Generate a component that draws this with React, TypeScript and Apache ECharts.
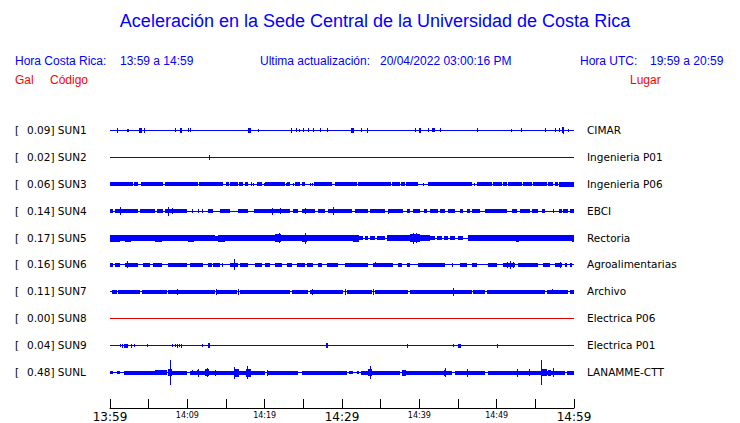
import { useEffect, useRef } from 'react';
import * as echarts from 'echarts';

// ---- data ----
const stationCodes = ['SUN1', 'SUN2', 'SUN3', 'SUN4', 'SUN5', 'SUN6', 'SUN7', 'SUN8', 'SUN9', 'SUNL'];
const stationPlaces = ['CIMAR', 'Ingenieria P01', 'Ingenieria P06', 'EBCI', 'Rectoria', 'Agroalimentarias', 'Archivo', 'Electrica P06', 'Electrica P01', 'LANAMME-CTT'];
const peakGal = [0.09, 0.02, 0.06, 0.14, 0.17, 0.16, 0.11, 0.0, 0.04, 0.48];
const timeLabels = ['13:59', '14:09', '14:19', '14:29', '14:39', '14:49', '14:59'];

// bands: [startMinute, endMinute, halfAmplitude]; spikes: [minute, halfAmplitude]
const sun1Bands = [[3.8, 4.1, 2], [4.4, 4.55, 2], [9.05, 9.35, 2], [17.9, 18.2, 2], [31.2, 31.5, 2], [39.9, 40.2, 2], [41.6, 42.0, 1.5], [58.4, 58.7, 2.5]];
const sun1Spikes = [[0.87, 2], [2.16, 1], [2.37, 1], [8.4, 1.5], [10.1, 1.5], [10.3, 1.5], [19.1, 1], [23.4, 2], [24.1, 1.5], [24.5, 1], [25.0, 1.5], [25.6, 1.5], [26.3, 1.5], [27.2, 1.5], [28.0, 1.5], [32.4, 1.5], [33.2, 2], [39.4, 1.5], [41.1, 1.5], [42.7, 1.5], [47.5, 1.5], [51.9, 1], [53.2, 1.5], [56.3, 1.5], [57.6, 1.5], [58.1, 1.5], [58.55, 3], [59.2, 1]];

const sun2Bands: number[][] = [];
const sun2Spikes = [[12.8, 2]];

const sun3Bands = [[0, 3.0, 1.5], [3.15, 3.66, 1.5], [3.97, 6.9, 1.5], [7.11, 11.42, 1.5], [11.55, 14.65, 1.5], [14.96, 15.39, 1.5], [15.52, 16.59, 1.5], [16.72, 17.24, 1.5], [17.46, 17.89, 1.5], [18.96, 19.61, 1.5], [20.04, 22.63, 1.5], [22.84, 23.27, 1.5], [23.92, 24.57, 1.5], [24.78, 25.21, 1.5], [26.42, 28.66, 1.5], [29.09, 31.89, 1.5], [32.02, 36.33, 1.5], [36.51, 37.5, 1.5], [37.63, 38.14, 1.5], [38.27, 39.87, 1.5], [41.08, 46.76, 1.5], [47.41, 49.35, 1.5], [49.57, 50.64, 1.5], [50.86, 51.29, 1.5], [51.5, 53.23, 1.5], [53.44, 54.52, 1.5], [54.74, 56.46, 1.5], [56.68, 57.33, 1.5], [57.54, 57.97, 1.5], [58.06, 60, 2]];
const sun3Spikes = [[18.2, 1.5], [18.5, 1], [19.9, 1], [22.7, 1], [23.6, 1], [25.8, 1], [26.1, 1], [40.5, 1], [47.1, 1]];

const sun4Bands = [[0, 0.43, 1.2], [0.65, 3.66, 1.2], [3.88, 5.82, 1.2], [6.03, 6.9, 1.2], [7.11, 9.91, 1.5], [12.71, 13.36, 1.2], [14.22, 15.52, 1.2], [16.5, 17.89, 1.2], [18.66, 20.9, 1.2], [21.12, 23.27, 1.5], [23.71, 24.35, 1.2], [24.78, 26.51, 1.5], [26.94, 27.8, 1.2], [28.14, 31.25, 1.2], [31.68, 33.4, 1.2], [33.62, 35.56, 1.2], [35.9, 37.93, 1.2], [38.36, 38.79, 1.2], [39.22, 40.08, 1.2], [40.64, 40.95, 1.2], [41.38, 42.45, 1.2], [42.67, 43.32, 1.2], [43.75, 44.61, 1.2], [45.26, 45.69, 1.2], [46.12, 46.55, 1.2], [46.76, 47.84, 1.2], [48.49, 51.29, 1.2], [51.94, 52.58, 1.2], [53.01, 54.29, 1.2], [54.61, 55.38, 1.2], [55.82, 56.25, 1.2], [58.19, 58.4, 1.2], [58.62, 59.26, 1.2], [59.48, 60, 1.2]];
const sun4Spikes = [[1.29, 3.5], [7.54, 4], [8.0, 2.5], [10.65, 1.5], [11.42, 1.5], [11.94, 1.5], [20.99, 3], [22.0, 2.5], [25.21, 2.5], [28.79, 3.5], [36.0, 2], [57.33, 1.5], [58.0, 1.5]];

const sun5Bands = [[0, 1.3, 3], [1.3, 1.94, 2.5], [1.94, 2.72, 3], [2.72, 5.82, 2.5], [5.82, 6.68, 3], [6.68, 10.13, 2.5], [10.13, 10.9, 3], [10.9, 13.58, 2.5], [13.58, 14.01, 2], [14.01, 14.87, 3], [14.87, 21.33, 2.5], [21.33, 22.11, 3.5], [22.11, 24.78, 2.5], [24.78, 25.43, 3], [25.43, 31.46, 2.5], [31.46, 32.2, 3], [32.2, 32.76, 1.5], [33.0, 33.4, 1.5], [33.62, 34.26, 1.5], [34.5, 35.56, 1.5], [35.77, 38.79, 2.5], [38.79, 40.08, 3.5], [40.08, 41.38, 2.5], [41.38, 42.0, 1.5], [42.3, 42.9, 1.5], [43.2, 43.75, 1.5], [44.0, 44.6, 1.5], [45.0, 45.7, 1.5], [46.25, 52.45, 2.5], [52.45, 52.89, 3], [52.89, 59.7, 2.5], [59.7, 60, 3]];
const sun5Spikes = [[21.8, 4.5], [25.21, 5], [39.2, 5], [39.6, 4.5]];

const sun6Bands = [[0, 0.43, 1.2], [0.65, 1.29, 1.2], [1.94, 3.66, 1.2], [4.31, 5.17, 1.2], [5.6, 6.68, 1.2], [7.54, 9.91, 1.2], [10.34, 12.07, 1.2], [12.71, 13.15, 1.2], [13.36, 14.22, 1.2], [14.44, 14.65, 1.2], [15.52, 16.59, 1.2], [16.81, 17.89, 1.2], [18.75, 19.61, 1.2], [20.04, 20.69, 1.2], [21.33, 22.2, 1.2], [22.84, 23.49, 1.2], [24.14, 25.21, 1.2], [25.43, 26.29, 1.2], [26.94, 27.37, 1.2], [28.02, 29.52, 1.2], [30.39, 33.4, 1.2], [34.05, 36.64, 1.2], [37.28, 37.71, 1.2], [38.36, 38.79, 1.2], [39.87, 43.32, 1.2], [44.18, 44.39, 1.2], [45.26, 46.12, 1.2], [46.76, 47.41, 1.2], [48.92, 50.0, 1.2], [50.86, 52.37, 1.5], [52.8, 55.38, 1.2], [56.03, 56.9, 1.2], [57.54, 58.4, 1.2], [58.83, 59.05, 1.2], [59.48, 59.7, 1.2]];
const sun6Spikes = [[2.16, 3], [16.08, 5], [34.3, 2], [51.3, 2.5], [51.72, 3.5], [52.1, 2.5], [58.19, 2.5]];

const sun7Bands = [[0.22, 0.86, 1.5], [1.08, 3.88, 1.5], [4.09, 7.33, 1.5], [7.54, 13.58, 1.5], [13.8, 16.38, 1.5], [16.81, 23.27, 1.5], [23.49, 25.65, 1.5], [25.86, 30.17, 1.5], [30.6, 33.83, 1.5], [34.26, 38.57, 1.5], [38.79, 46.76, 1.5], [46.98, 48.49, 1.5], [48.71, 56.25, 1.5], [56.46, 59.26, 1.5], [59.48, 60, 1.5]];
const sun7Spikes = [[8.62, 2.5], [13.71, 2.5], [16.59, 2.5], [26.08, 2.5], [30.39, 2.5], [34.05, 2.5], [44.39, 3.5], [57.11, 2]];

const sun8Bands: number[][] = [];
const sun8Spikes: number[][] = [];

const sun9Bands = [[1.81, 2.28, 1.5], [12.71, 12.93, 2], [27.89, 28.14, 2], [44.95, 45.39, 1.5]];
const sun9Spikes = [[1.29, 1], [1.51, 1.5], [2.72, 1.5], [3.15, 1], [4.74, 1], [7.97, 1], [8.4, 1], [8.62, 1.5], [8.92, 1], [9.18, 1.5], [11.85, 1], [38.45, 1.5], [44.39, 1], [50.0, 1.5]];

const sunLBands = [[0, 0.43, 1], [0.86, 1.29, 1], [1.81, 5.82, 1.5], [5.82, 7.33, 2], [7.54, 9.91, 1.5], [10.34, 16.38, 1.5], [16.6, 20.04, 1.5], [20.34, 24.35, 1.5], [24.78, 30.6, 1.5], [30.9, 31.46, 1], [31.9, 32.2, 1], [32.5, 37.5, 1.5], [37.8, 44.18, 1.5], [44.61, 48.49, 1.5], [48.92, 58.83, 1.5], [59.05, 60, 1.5], [7.5, 8.0, 3], [12.3, 12.8, 3], [16.2, 16.7, 3.5], [17.6, 18.2, 3.5], [33.4, 33.9, 3], [37.8, 38.3, 2.5], [43.2, 43.5, 2.5], [55.9, 56.5, 3], [56.7, 57.0, 2.5]];
const sunLSpikes = [[7.76, 12], [10.65, 2], [11.2, 2], [11.34, 3.5], [12.5, 4], [13.58, 2.5], [16.08, 5.5], [17.67, 6], [20.34, 2.5], [33.62, 6], [38.06, 2.5], [43.32, 4], [46.12, 3.5], [52.58, 3.5], [54.18, 3], [55.68, 12], [57.33, 4]];

const stationBands = [sun1Bands, sun2Bands, sun3Bands, sun4Bands, sun5Bands, sun6Bands, sun7Bands, sun8Bands, sun9Bands, sunLBands];
const stationSpikes = [sun1Spikes, sun2Spikes, sun3Spikes, sun4Spikes, sun5Spikes, sun6Spikes, sun7Spikes, sun8Spikes, sun9Spikes, sunLSpikes];
const traceColors = ['#0000ff', '#0000ff', '#0000ff', '#0000ff', '#0000ff', '#0000ff', '#0000ff', '#e00000', '#0000ff', '#0000ff'];

// ---- layout constants ----
const ROW = 27; // y-axis units between traces (1 unit = 1 px)
const Y_MAX = 306;
const T_MIN = 0;
const T_MAX = 60;

const BLUE = '#0000ff';
const RED = '#ff0000';
const HEAD_FONT = '"Liberation Sans", Arial, sans-serif';
const BODY_FONT = '"DejaVu Sans", sans-serif';

function rowIndex(v: number): number {
  const k = v / ROW - 1;
  return Math.abs(k - Math.round(k)) < 1e-6 ? Math.round(k) : -1;
}

export default function App() {
  const ref = useRef<HTMLDivElement>(null);

  useEffect(() => {
    if (!ref.current) return;
    const chart = echarts.init(ref.current, null, { renderer: 'svg' });

    const series = stationCodes.map((code, k) => {
      const data: number[][] = [[T_MIN, T_MAX, 0, k]];
      stationBands[k].forEach((b) => data.push([b[0], b[1], b[2], k]));
      stationSpikes[k].forEach((s) => data.push([s[0], s[0], s[1], k]));
      const color = traceColors[k];
      return {
        type: 'custom',
        name: code,
        silent: true,
        clip: false,
        encode: { x: [0, 1], y: 2 },
        data,
        renderItem: (_params: any, api: any) => {
          const t0 = api.value(0) as number;
          const t1 = api.value(1) as number;
          const amp = api.value(2) as number;
          const row = api.value(3) as number;
          const base = ROW * (row + 1);
          const a = api.coord([t0, base - amp]);
          const b = api.coord([t1, base + amp]);
          const x0 = Math.round(a[0]);
          const x1 = Math.max(x0 + 1, Math.round(b[0]));
          const y0 = Math.round(a[1]);
          const y1 = Math.round(b[1]) + 1;
          return {
            type: 'rect',
            shape: { x: x0, y: y0, width: x1 - x0, height: y1 - y0 },
            style: { fill: color },
          };
        },
      };
    });

    const headText = (text: string, x: number, y: number, color: string, size = 12, align = 'left') => ({
      type: 'text',
      x,
      y,
      silent: true,
      style: {
        text,
        fill: color,
        fontSize: size,
        fontFamily: HEAD_FONT,
        align,
        textAlign: align,
        verticalAlign: 'middle',
        textVerticalAlign: 'middle',
      },
    });

    const option: any = {
      animation: false,
      backgroundColor: '#ffffff',
      grid: { left: 110, right: 166, top: 103, bottom: 14, containLabel: false },
      xAxis: {
        type: 'value',
        min: T_MIN,
        max: T_MAX,
        interval: 5,
        axisLine: { show: true, onZero: false, lineStyle: { color: '#000', width: 1 } },
        axisTick: { show: true, inside: true, length: 9, lineStyle: { color: '#000', width: 1 } },
        splitLine: { show: false },
        axisLabel: {
          margin: 2,
          showMinLabel: true,
          showMaxLabel: true,
          hideOverlap: false,
          formatter: (v: number) => {
            if (Math.round(v) % 10 !== 0) return '';
            const label = timeLabels[Math.round(v) / 10];
            return Math.round(v) % 30 === 0 ? `{big|${label}}` : `{small|${label}}`;
          },
          rich: {
            big: { fontSize: 12, lineHeight: 14, fontFamily: BODY_FONT, color: '#000' },
            small: { fontSize: 8, lineHeight: 10, fontFamily: BODY_FONT, color: '#000' },
          },
        },
      },
      yAxis: [
        {
          type: 'value',
          inverse: true,
          min: 0,
          max: Y_MAX,
          interval: ROW,
          position: 'left',
          axisLine: { show: false },
          axisTick: { show: false },
          splitLine: { show: false },
          axisLabel: {
            align: 'left',
            margin: 95,
            fontSize: 10.5,
            fontFamily: BODY_FONT,
            color: '#000',
            showMinLabel: true,
            showMaxLabel: true,
            formatter: (v: number) => {
              const k = rowIndex(v);
              if (k < 0 || k >= stationCodes.length) return '';
              return `{br|[}{t|${peakGal[k].toFixed(2)}] ${stationCodes[k]}}`;
            },
            rich: {
              br: { width: 12, fontSize: 10.5, fontFamily: BODY_FONT, color: '#000', align: 'left' },
              t: { fontSize: 10.5, fontFamily: BODY_FONT, color: '#000' },
            },
          },
        },
        {
          type: 'value',
          inverse: true,
          min: 0,
          max: Y_MAX,
          interval: ROW,
          position: 'right',
          axisLine: { show: false },
          axisTick: { show: false },
          splitLine: { show: false },
          axisLabel: {
            align: 'left',
            margin: 13,
            fontSize: 10.5,
            fontFamily: BODY_FONT,
            color: '#000',
            formatter: (v: number) => {
              const k = rowIndex(v);
              if (k < 0 || k >= stationPlaces.length) return '';
              return stationPlaces[k];
            },
          },
        },
      ],
      graphic: [
        headText('Aceleración en la Sede Central de la Universidad de Costa Rica', 375, 21, BLUE, 18, 'center'),
        headText('Hora Costa Rica:', 15, 61, BLUE),
        headText('13:59 a 14:59', 120, 61, BLUE),
        headText('Ultima actualización:', 260, 61, BLUE),
        headText('20/04/2022 03:00:16 PM', 380, 61, BLUE),
        headText('Hora UTC:', 580, 61, BLUE),
        headText('19:59 a 20:59', 650, 61, BLUE),
        headText('Gal', 15, 80, RED),
        headText('Código', 50, 80, RED),
        headText('Lugar', 630, 80, RED),
      ],
      series,
    };

    chart.setOption(option);
    return () => chart.dispose();
  }, []);

  return (
    <div
      ref={ref}
      style={{ position: 'fixed', left: 0, top: 0, width: 740, height: 423, background: '#fff' }}
    />
  );
}
